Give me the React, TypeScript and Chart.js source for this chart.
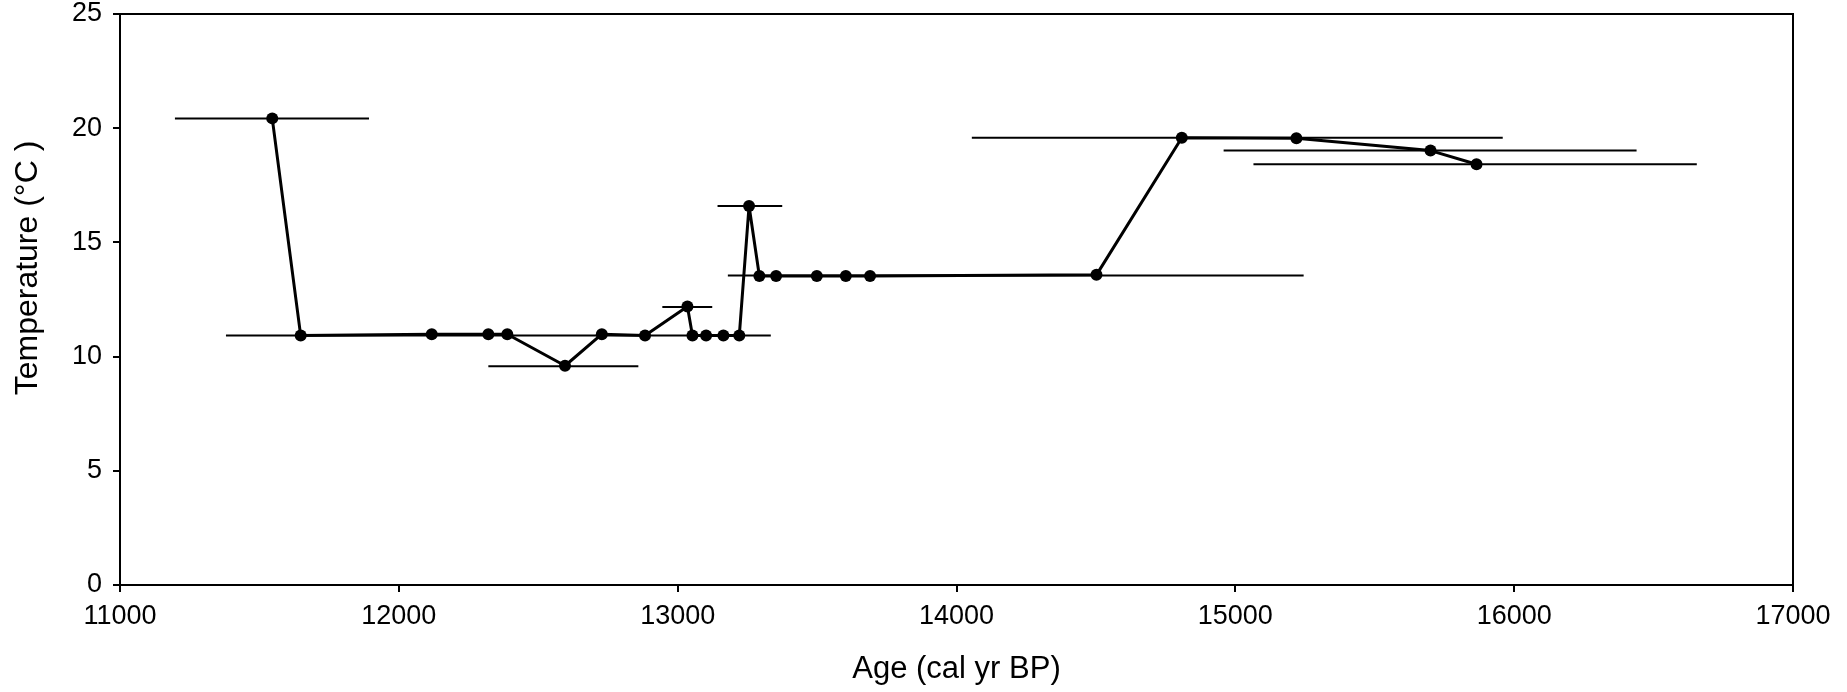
import React, { useEffect, useRef } from 'react';
import { Chart, registerables } from 'chart.js';

Chart.register(...registerables);

// Reconstruction ages (cal yr BP) and temperatures (°C)
const ages = [11546, 11648, 12118, 12321, 12389, 12596, 12728, 12883, 13035, 13053, 13102, 13164, 13221, 13256, 13293, 13353, 13499, 13603, 13690, 14502, 14808, 15219, 15700, 15865];
const temps = [20.43, 10.92, 10.98, 10.98, 10.98, 9.6, 10.98, 10.92, 12.19, 10.92, 10.92, 10.92, 10.92, 16.59, 13.53, 13.53, 13.53, 13.53, 13.53, 13.58, 19.58, 19.56, 19.02, 18.42];

// Horizontal age-range bars
const rangeTemps = [20.43, 10.92, 9.58, 12.17, 16.59, 13.55, 19.58, 19.02, 18.42];
const rangeMin = [11197, 11380, 12321, 12945, 13143, 13180, 14055, 14958, 15065];
const rangeMax = [11893, 13334, 12859, 13124, 13375, 15245, 15959, 16439, 16655];

// Axis ticks and titles
const xTicks = [11000, 12000, 13000, 14000, 15000, 16000, 17000];
const yTicks = [0, 5, 10, 15, 20, 25];
const xTitle = 'Age (cal yr BP)';
const yTitle = 'Temperature (°C )';

const FONT = '"Liberation Sans", Arial, sans-serif';

export default function App() {
  const ref = useRef<HTMLCanvasElement | null>(null);

  useEffect(() => {
    if (!ref.current) return;

    const rangeSets = rangeTemps.map((t, i) => ({
      type: 'line' as const,
      data: [
        { x: rangeMin[i], y: t },
        { x: rangeMax[i], y: t },
      ],
      borderColor: '#000',
      borderWidth: 2,
      pointRadius: 0,
      showLine: true,
      fill: false,
    }));

    const frame = {
      id: 'frame',
      beforeDatasetsDraw(chart: any) {
        const { ctx, chartArea } = chart;
        ctx.save();
        ctx.strokeStyle = '#000';
        ctx.lineWidth = 2;
        ctx.strokeRect(chartArea.left, chartArea.top, chartArea.right - chartArea.left, chartArea.bottom - chartArea.top);
        ctx.restore();
      },
      afterDraw(chart: any) {
        const { ctx, chartArea } = chart;
        ctx.save();
        ctx.fillStyle = '#000';
        ctx.font = `31px ${FONT}`;
        ctx.textAlign = 'center';
        ctx.textBaseline = 'alphabetic';
        // x-axis title, centred under the plot area
        ctx.fillText(xTitle, (chartArea.left + chartArea.right) / 2, chartArea.bottom + 93);
        // y-axis title, rotated, sitting somewhat above the vertical centre
        ctx.translate(37, chartArea.top + 254);
        ctx.rotate(-Math.PI / 2);
        ctx.font = `32px ${FONT}`;
        ctx.fillText(yTitle, 0, 0);
        ctx.restore();
      },
    };

    const chart = new Chart(ref.current, {
      type: 'scatter',
      data: {
        datasets: [
          ...rangeSets,
          {
            type: 'line' as const,
            data: ages.map((a, i) => ({ x: a, y: temps[i] })),
            borderColor: '#000',
            backgroundColor: '#000',
            borderWidth: 3,
            borderJoinStyle: 'round',
            pointRadius: 6,
            pointBackgroundColor: '#000',
            pointBorderWidth: 0,
            showLine: true,
            fill: false,
          },
        ],
      },
      options: {
        animation: false,
        responsive: false,
        layout: { padding: { left: 0, right: 54, top: 14, bottom: 0 } },
        plugins: { legend: { display: false }, tooltip: { enabled: false } },
        scales: {
          x: {
            type: 'linear',
            min: 11000,
            max: 17000,
            afterFit(scale: any) {
              scale.height = 107;
              scale.paddingLeft = 0;
              scale.paddingRight = 0;
            },
            afterBuildTicks(scale: any) {
              scale.ticks = xTicks.map((v) => ({ value: v }));
            },
            ticks: {
              color: '#000',
              font: { family: FONT, size: 27 },
              padding: 8,
              maxRotation: 0,
              callback: (v: any) => String(v),
            },
            grid: {
              display: true,
              drawOnChartArea: false,
              drawTicks: true,
              tickLength: 7,
              color: '#000',
              lineWidth: 2,
            },
            border: { display: false },
            title: { display: false },
          },
          y: {
            type: 'linear',
            min: 0,
            max: 25,
            afterFit(scale: any) {
              scale.width = 120;
              scale.paddingTop = 0;
              scale.paddingBottom = 0;
            },
            afterBuildTicks(scale: any) {
              scale.ticks = yTicks.map((v) => ({ value: v }));
            },
            ticks: {
              color: '#000',
              font: { family: FONT, size: 27 },
              padding: 11,
              callback: (v: any) => String(v),
            },
            grid: {
              display: true,
              drawOnChartArea: false,
              drawTicks: true,
              tickLength: 7,
              color: '#000',
              lineWidth: 2,
            },
            border: { display: false },
            title: { display: false },
          },
        },
      },
      plugins: [frame],
    });

    return () => chart.destroy();
  }, []);

  return (
    <div style={{ position: 'absolute', left: 0, top: 0, width: 1847, height: 692, background: '#fff' }}>
      <canvas ref={ref} width={1847} height={692} style={{ display: 'block' }} />
    </div>
  );
}
